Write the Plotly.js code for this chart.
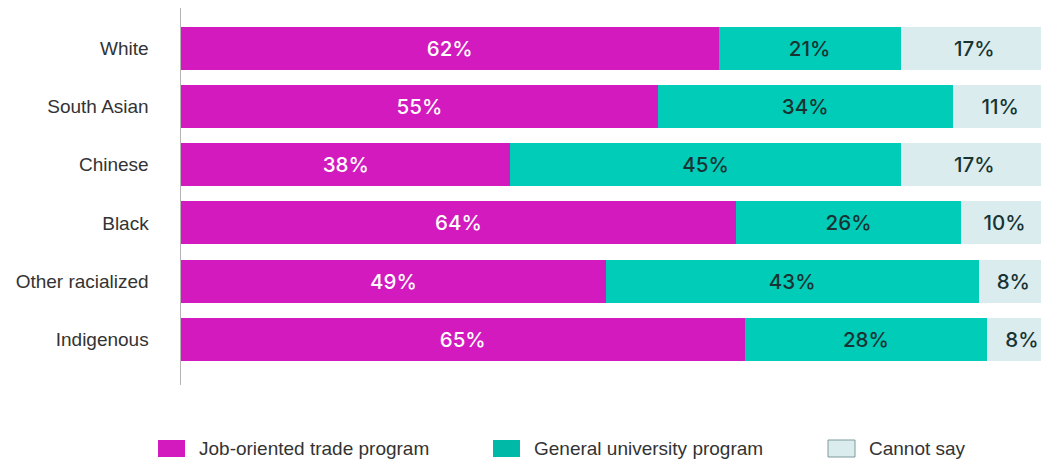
<!DOCTYPE html>
<html>
<head>
<meta charset="utf-8">
<script src="https://cdn.plot.ly/plotly-3.0.1.min.js"></script>
<style>html,body{margin:0;padding:0;background:#fff;}#chart{width:1041px;height:461px;}</style>
</head>
<body>
<div id="chart"></div>
<script>
const categories = ["White", "South Asian", "Chinese", "Black", "Other racialized", "Indigenous"];
const seriesNames = ["Job-oriented trade program", "General university program", "Cannot say"];
const tradeValues = [62, 55, 38, 64, 49, 65];
const universityValues = [21, 34, 45, 26, 43, 28];
const cannotSayValues = [17, 11, 17, 10, 8, 8];

const colors = ["#d21abf", "#00ccb8", "#daecee"];
const swatchColors = ["#d21abf", "#00b9a7", "#daecee"];
const swatchLines = ["#d21abf", "#00b9a7", "#7d9a9c"];
const textColors = ["#ffffff", "#173333", "#173333"];
const allValues = [tradeValues, universityValues, cannotSayValues];

const W = 1041, H = 461;
const M = {l: 181, r: 0, t: 8, b: 76};
const pw = W - M.l - M.r, ph = H - M.t - M.b;
const px = x => (x - M.l) / pw;
const py = y => (H - M.b - y) / ph;

const traces = allValues.map((vals, i) => ({
  type: "bar",
  orientation: "h",
  name: seriesNames[i],
  y: categories,
  x: vals,
  text: vals.map(v => v + "%"),
  textposition: "inside",
  insidetextanchor: "middle",
  constraintext: "none",
  textangle: 0,
  textfont: {family: "Inter, 'Open Sans', sans-serif", size: 20.5, weight: 500, color: textColors[i]},
  marker: {color: colors[i], line: {width: 0}},
  hoverinfo: "skip",
  showlegend: false
}));

// custom legend (layout only)
const legendX = [158, 493, 828];
const shapes = [];
const annotations = [];
seriesNames.forEach((name, i) => {
  shapes.push({
    type: "rect", xref: "paper", yref: "paper",
    x0: px(legendX[i]), x1: px(legendX[i] + 27),
    y0: py(457), y1: py(440),
    fillcolor: swatchColors[i],
    line: {color: swatchLines[i], width: i === 2 ? 1 : 0}
  });
  annotations.push({
    xref: "paper", yref: "paper",
    x: px(legendX[i] + 39), y: py(448.5),
    xanchor: "left", yanchor: "middle",
    text: name, showarrow: false,
    font: {family: "'Liberation Sans', Arial, sans-serif", size: 19, color: "#333333"}
  });
});

const layout = {
  width: W,
  height: H,
  barmode: "stack",
  bargap: 0.26,
  margin: M,
  paper_bgcolor: "#ffffff",
  plot_bgcolor: "#ffffff",
  showlegend: false,
  shapes: shapes,
  annotations: annotations,
  xaxis: {
    range: [0, 99.2],
    showgrid: false,
    zeroline: false,
    showticklabels: false,
    showline: false,
    fixedrange: true
  },
  yaxis: {
    type: "category",
    range: [5.79, -0.70],
    showgrid: false,
    zeroline: false,
    showline: true,
    linecolor: "#b4b4b4",
    linewidth: 1.5,
    ticks: "",
    ticklabelstandoff: 27,
    tickfont: {family: "'Liberation Sans', Arial, sans-serif", size: 19, color: "#333333"},
    fixedrange: true
  },
  font: {family: "'Liberation Sans', Arial, sans-serif"}
};

Plotly.newPlot("chart", traces, layout, {displayModeBar: false, staticPlot: true});
</script>
</body>
</html>
